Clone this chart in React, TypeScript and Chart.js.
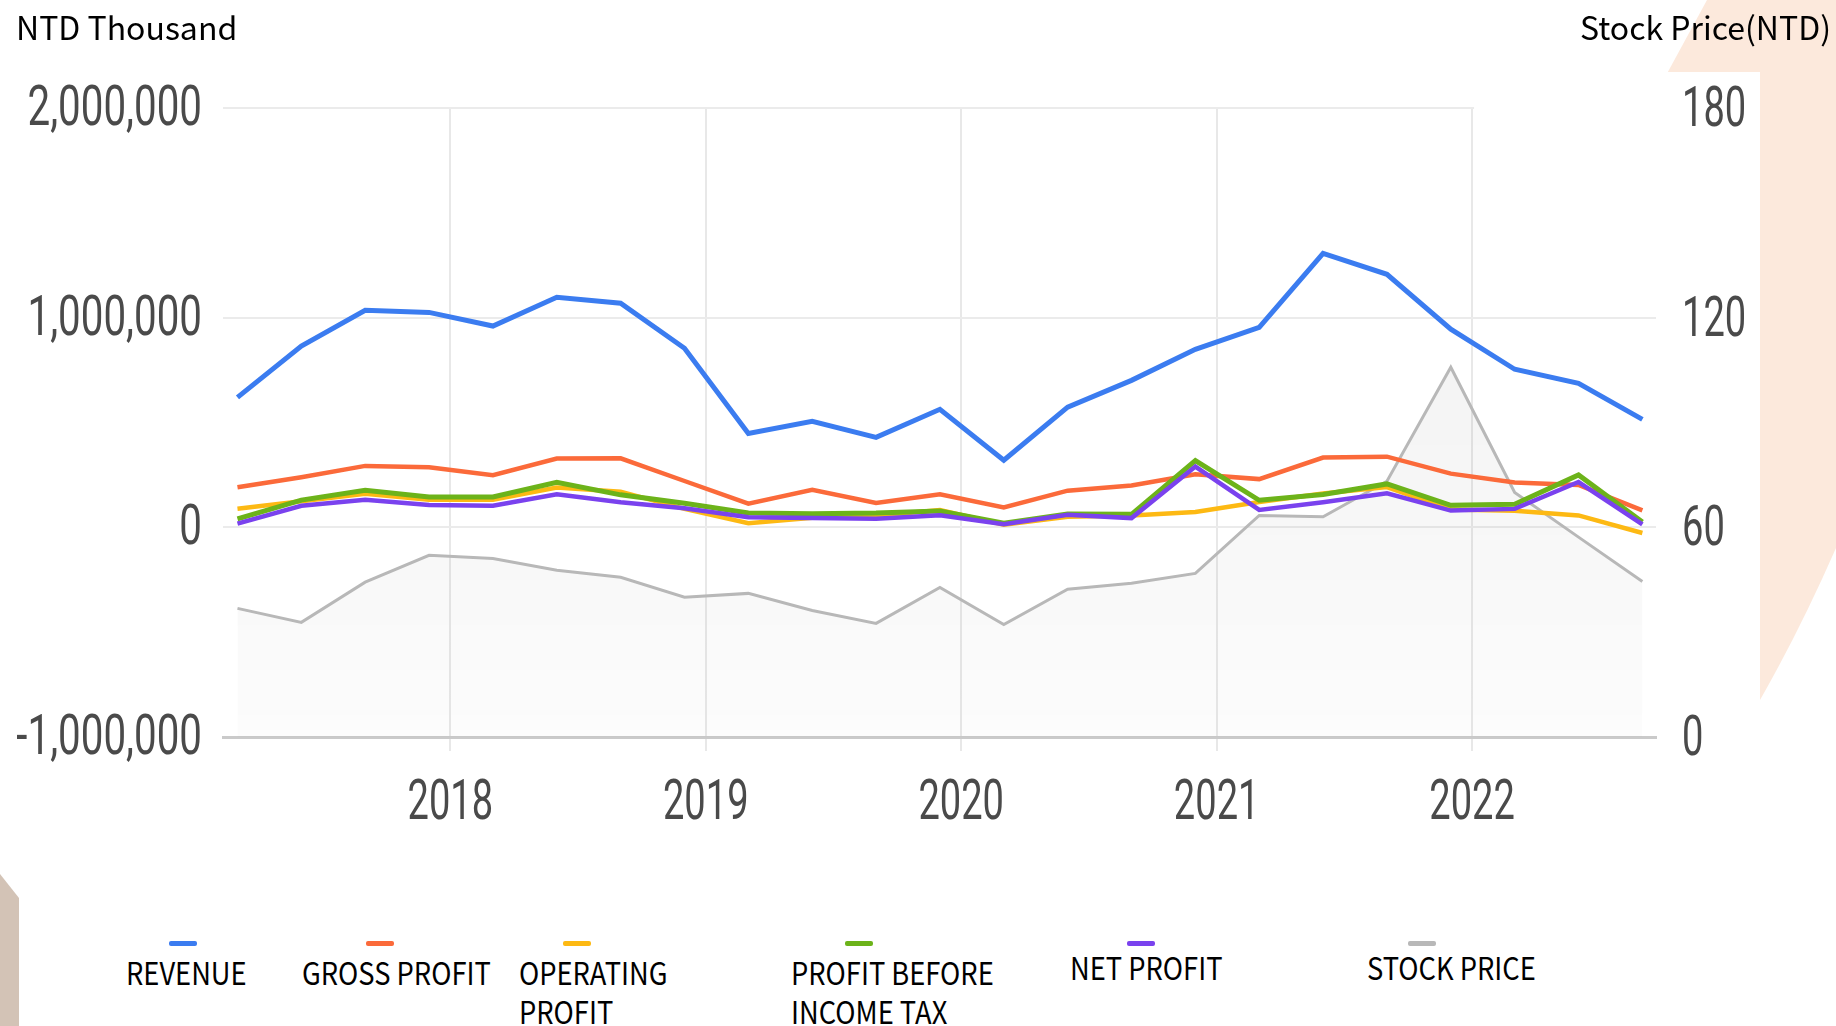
import React, { useEffect, useRef } from "react";
import { Chart, registerables } from "chart.js";

Chart.register(...registerables);

// ---- data (NTD thousand; stock price in NTD) ----
const quarters = [
  "2017/03", "2017/06", "2017/09", "2017/12",
  "2018/03", "2018/06", "2018/09", "2018/12",
  "2019/03", "2019/06", "2019/09", "2019/12",
  "2020/03", "2020/06", "2020/09", "2020/12",
  "2021/03", "2021/06", "2021/09", "2021/12",
  "2022/03", "2022/06", "2022/09",
];

const revenue = [
  620000, 865000, 1035000, 1025000, 960000, 1097000, 1069000, 854000,
  448000, 506000, 429000, 563000, 320000, 573000, 701000, 849000,
  954000, 1307000, 1207000, 945000, 754000, 687000, 515000,
];
const grossProfit = [
  191000, 239000, 293000, 287000, 249000, 328000, 329000, 221000,
  113000, 179000, 116000, 158000, 95000, 175000, 200000, 253000,
  230000, 333000, 337000, 256000, 214000, 202000, 81000,
];
const operatingProfit = [
  89000, 124000, 160000, 132000, 132000, 190000, 170000, 88000,
  20000, 46000, 55000, 83000, 13000, 50000, 57000, 73000,
  121000, 161000, 192000, 85000, 79000, 57000, -27000,
];
const profitBeforeTax = [
  40000, 130000, 177000, 145000, 145000, 215000, 155000, 115000,
  68000, 65000, 68000, 78000, 20000, 64000, 62000, 318000,
  129000, 157000, 207000, 105000, 110000, 250000, 25000,
];
const netProfit = [
  18000, 103000, 132000, 106000, 103000, 158000, 120000, 91000,
  48000, 44000, 41000, 58000, 15000, 60000, 44000, 290000,
  83000, 120000, 162000, 80000, 88000, 216000, 14000,
];
const stockPrice = [
  36.8, 32.8, 44.3, 52.0, 51.1, 47.7, 45.7, 40.0,
  41.1, 36.2, 32.5, 42.8, 32.2, 42.3, 44.0, 46.8,
  63.4, 63.0, 73.2, 105.8, 70.0, 57.2, 44.5,
];

const yearTicks = [2018, 2019, 2020, 2021, 2022];
const leftTicks = [-1000000, 0, 1000000, 2000000];
const rightTicks = [0, 60, 120, 180];

const seriesNames = [
  "REVENUE",
  "GROSS PROFIT",
  "OPERATING PROFIT",
  "PROFIT BEFORE INCOME TAX",
  "NET PROFIT",
  "STOCK PRICE",
];

const COLORS = {
  revenue: "#3b7cf0",
  gross: "#fb6a3a",
  operating: "#fdb913",
  pbt: "#6cb31a",
  net: "#7a42ee",
  stock: "#b8b8b8",
};

const quarterToYear = (q: string) => {
  const [y, m] = q.split("/").map(Number);
  return y + (m - 1) / 12;
};
const toXY = (vals: number[]) =>
  vals.map((v, i) => ({ x: quarterToYear(quarters[i]), y: v }));

const fmt = (v: number) => v.toLocaleString("en-US");

const tickLabelPlugin = {
  id: "scaledTickLabels",
  afterDraw(chart: any) {
    const c = chart.ctx as CanvasRenderingContext2D;
    const { x, y, y1 } = chart.scales;
    const area = chart.chartArea;
    const draw = (text: string, px: number, py: number, align: CanvasTextAlign, sx: number) => {
      c.save();
      c.translate(px, py);
      c.scale(sx, 1);
      c.textAlign = align;
      c.textBaseline = "alphabetic";
      c.fillText(text, 0, 0);
      c.restore();
    };
    c.save();
    c.fillStyle = "#4a4a4a";
    c.font = "56px Roboto, 'Liberation Sans', sans-serif";
    y.ticks.forEach((t: any) =>
      draw(fmt(t.value), area.left - 21, y.getPixelForValue(t.value) + 17, "right", 0.72)
    );
    y1.ticks.forEach((t: any) =>
      draw(String(t.value), area.right + 26, y1.getPixelForValue(t.value) + 18, "left", 0.68)
    );
    x.ticks.forEach((t: any) =>
      draw(String(t.value), x.getPixelForValue(t.value), area.bottom + 82, "center", 0.68)
    );
    c.restore();
  },
};

const coverPlugin = {
  id: "coverPatch",
  beforeDatasetsDraw(chart: any) {
    const c = chart.ctx as CanvasRenderingContext2D;
    const area = chart.chartArea;
    const x0 = chart.scales.x.getPixelForValue(yearTicks[yearTicks.length - 1]) + 2;
    c.save();
    c.fillStyle = "#ffffff";
    c.fillRect(x0, area.top - 5, area.right + 4 - x0, 70);
    c.restore();
  },
};

const line = (label: string, vals: number[], color: string, order: number, width = 4.5) => ({
  label,
  data: toXY(vals),
  borderColor: color,
  backgroundColor: color,
  borderWidth: width,
  pointRadius: 0,
  tension: 0,
  fill: false,
  yAxisID: "y",
  order,
});

function ChartCanvas() {
  const ref = useRef<HTMLCanvasElement | null>(null);
  useEffect(() => {
    if (!ref.current) return;
    const chart = new Chart(ref.current, {
      type: "line",
      data: {
        datasets: [
          line(seriesNames[0], revenue, COLORS.revenue, 5, 5),
          line(seriesNames[1], grossProfit, COLORS.gross, 4),
          line(seriesNames[2], operatingProfit, COLORS.operating, 3),
          line(seriesNames[3], profitBeforeTax, COLORS.pbt, 2, 5),
          line(seriesNames[4], netProfit, COLORS.net, 1),
          {
            label: seriesNames[5],
            data: toXY(stockPrice),
            borderColor: COLORS.stock,
            borderWidth: 3,
            pointRadius: 0,
            tension: 0,
            yAxisID: "y1",
            order: 6,
            fill: "start",
            backgroundColor: (ctx: any) => {
              const { chart } = ctx;
              const area = chart.chartArea;
              if (!area) return "rgba(0,0,0,0.04)";
              const g = chart.ctx.createLinearGradient(0, area.top, 0, area.bottom);
              g.addColorStop(0, "rgba(0,0,0,0.065)");
              g.addColorStop(1, "rgba(0,0,0,0.012)");
              return g;
            },
          } as any,
        ],
      },
      options: {
        animation: false,
        responsive: false,
        maintainAspectRatio: false,
        layout: { padding: { top: 108, left: 0, right: 0, bottom: 0 } },
        plugins: {
          legend: { display: false },
          tooltip: { enabled: false },
          title: { display: false },
        },
        scales: {
          x: {
            type: "linear",
            min: 2017.11,
            max: 2022.72,
            afterBuildTicks: (axis: any) => {
              axis.ticks = yearTicks.map((v) => ({ value: v }));
            },
            afterFit: (axis: any) => {
              axis.height = 143;
            },
            grid: { color: "#e8e8e8", lineWidth: 2, drawTicks: true, tickLength: 14 },
            border: { display: true, color: "#cacaca", width: 3 },
            ticks: { display: false },
          },
          y: {
            type: "linear",
            position: "left",
            min: -1000000,
            max: 2000000,
            afterBuildTicks: (axis: any) => {
              axis.ticks = leftTicks.map((v) => ({ value: v }));
            },
            afterFit: (axis: any) => {
              axis.width = 223;
            },
            grid: { color: "#ebebeb", lineWidth: 2, drawTicks: false },
            border: { display: false },
            ticks: { display: false },
          },
          y1: {
            type: "linear",
            position: "right",
            min: 0,
            max: 180,
            afterBuildTicks: (axis: any) => {
              axis.ticks = rightTicks.map((v) => ({ value: v }));
            },
            afterFit: (axis: any) => {
              axis.width = 180;
            },
            grid: { display: false, drawTicks: false },
            border: { display: false },
            ticks: { display: false },
          },
        },
      },
      plugins: [coverPlugin, tickLabelPlugin],
    } as any);
    return () => chart.destroy();
  }, []);
  return (
    <canvas
      ref={ref}
      width={1836}
      height={880}
      style={{ position: "absolute", left: 0, top: 0, width: 1836, height: 880 }}
    />
  );
}

const legendItems = [
  { name: seriesNames[0], lines: ["REVENUE"], color: COLORS.revenue, dashX: 169, textX: 126, top: 952 },
  { name: seriesNames[1], lines: ["GROSS PROFIT"], color: COLORS.gross, dashX: 366, textX: 302, top: 952 },
  { name: seriesNames[2], lines: ["OPERATING", "PROFIT"], color: COLORS.operating, dashX: 563, textX: 519, top: 952 },
  { name: seriesNames[3], lines: ["PROFIT BEFORE", "INCOME TAX"], color: COLORS.pbt, dashX: 845, textX: 791, top: 952 },
  { name: seriesNames[4], lines: ["NET PROFIT"], color: COLORS.net, dashX: 1127, textX: 1070, top: 947 },
  { name: seriesNames[5], lines: ["STOCK PRICE"], color: COLORS.stock, dashX: 1408, textX: 1367, top: 947 },
];

export default function App() {
  const font = '"Noto Sans CJK TC", "Noto Sans CJK SC", "Noto Sans", sans-serif';
  return (
    <div
      style={{
        position: "fixed",
        left: 0,
        top: 0,
        width: 1836,
        height: 1026,
        background: "#ffffff",
        overflow: "hidden",
        fontFamily: font,
        color: "#000",
      }}
    >
      <svg
        width={1836}
        height={1026}
        style={{ position: "absolute", left: 0, top: 0 }}
      >
        <path
          d="M1707,0 L1836,0 L1836,548 Q1800,630 1760,700 L1620,700 L1620,160 Z"
          fill="#fce9dc"
        />
        <rect x={0} y={72} width={1760} height={954} fill="#ffffff" />
        <path d="M0,874 L19,898 L19,1026 L0,1026 Z" fill="#d3c3b6" />
      </svg>
      <ChartCanvas />
      <div
        style={{
          position: "absolute",
          left: 16,
          top: 10,
          fontSize: 32,
          lineHeight: "32px",
          whiteSpace: "nowrap",
        }}
      >
        NTD Thousand
      </div>
      <div
        style={{
          position: "absolute",
          right: 5,
          top: 10,
          fontSize: 32,
          lineHeight: "32px",
          whiteSpace: "nowrap",
        }}
      >
        Stock Price(NTD)
      </div>
      {legendItems.map((it) => (
        <React.Fragment key={it.name}>
          <div
            style={{
              position: "absolute",
              left: it.dashX,
              top: 941,
              width: 28,
              height: 5,
              borderRadius: 2,
              background: it.color,
            }}
          />
          <div
            style={{
              position: "absolute",
              left: it.textX,
              top: it.top,
              fontSize: 31,
              lineHeight: "39px",
              whiteSpace: "nowrap",
              transform: "scaleX(0.88)",
              transformOrigin: "0 0",
            }}
          >
            {it.lines.map((l) => (
              <div key={l}>{l}</div>
            ))}
          </div>
        </React.Fragment>
      ))}
    </div>
  );
}
